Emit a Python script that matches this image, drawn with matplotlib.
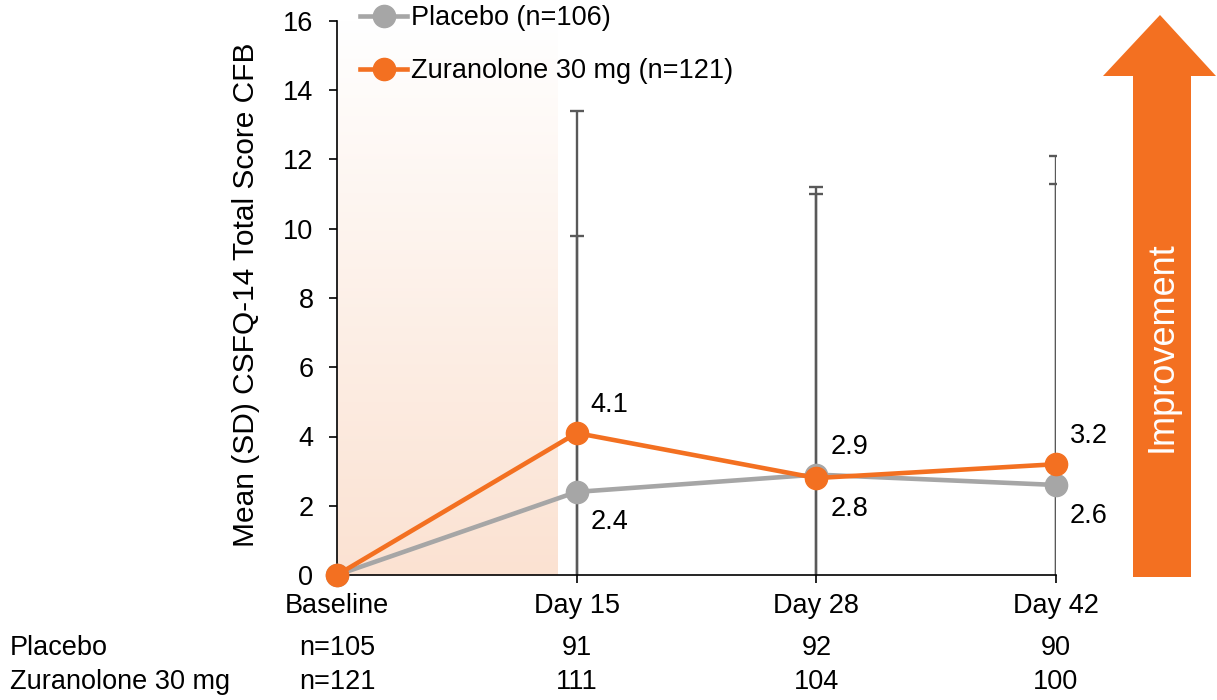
import numpy as np
import matplotlib
matplotlib.use("Agg")
import matplotlib.pyplot as plt
from matplotlib.patches import Polygon
from matplotlib.transforms import blended_transform_factory

plt.rcParams['font.family'] = ['Liberation Sans', 'DejaVu Sans']

# data
visits = ["Baseline", "Day 15", "Day 28", "Day 42"]
placebo_mean = [0, 2.4, 2.9, 2.6]
zur_mean = [0, 4.1, 2.8, 3.2]
placebo_sd = [0, 7.4, 8.1, 8.7]
zur_sd = [0, 9.3, 8.4, 8.9]
placebo_n = ["n=105", "91", "92", "90"]
zur_n = ["n=121", "111", "104", "100"]
placebo_label = "Placebo (n=106)"
zur_label = "Zuranolone 30 mg (n=121)"
row_labels = ["Placebo", "Zuranolone 30 mg"]
shade_end = 0.92  # end of shaded treatment period (in visit units)

ORANGE = "#F37021"
GREY = "#A6A6A6"
ERR = "#595959"
FS = 19.5

W, H = 1217, 700
fig = plt.figure(figsize=(W / 100, H / 100), dpi=100)
ax = fig.add_axes([337 / W, 1 - 575 / H, (1056 - 337) / W, (575 - 21) / H])

x = np.arange(len(visits))

# gradient shading for treatment period
grad = np.linspace(0, 1, 256).reshape(-1, 1)
c0 = np.array([251, 226, 210]) / 255
c1 = np.array([255, 255, 255]) / 255
img = c0[None, None, :] * (1 - grad[..., None]) + c1[None, None, :] * grad[..., None]
ax.imshow(img, extent=[0, shade_end, 0, 16], origin='lower', aspect='auto', zorder=0)

# error bars (drawn behind the lines)
ax.errorbar(x[1:], placebo_mean[1:], yerr=placebo_sd[1:], fmt='none', ecolor=ERR,
            elinewidth=1.7, capsize=5, capthick=1.7, zorder=2)
ax.errorbar(x[1:], zur_mean[1:], yerr=zur_sd[1:], fmt='none', ecolor=ERR,
            elinewidth=1.7, capsize=5, capthick=1.7, zorder=2)

ax.plot(x, placebo_mean, color=GREY, lw=3.3, marker='o', ms=16, label=placebo_label,
        clip_on=False, zorder=4)
ax.plot(x, zur_mean, color=ORANGE, lw=3.3, marker='o', ms=16, label=zur_label,
        clip_on=False, zorder=5)

# data labels
for xi, p, z in zip(x[1:], placebo_mean[1:], zur_mean[1:]):
    hi, lo = max(p, z), min(p, z)
    ax.annotate(f"{hi:.1f}", (xi, hi), xytext=(10, 20), textcoords='offset points',
                ha='left', va='center', fontsize=FS)
    ax.annotate(f"{lo:.1f}", (xi, lo), xytext=(10, -22), textcoords='offset points',
                ha='left', va='center', fontsize=FS)

ax.set_xlim(0, 3)
ax.set_ylim(0, 16)
ax.set_yticks(np.arange(0, 17, 2))
ax.set_xticks(x)
ax.set_xticklabels(visits)
ax.tick_params(axis='both', labelsize=FS, direction='out', length=6, width=1.2)
ax.tick_params(axis='y', pad=11)
ax.tick_params(axis='x', pad=7)
for s in ['top', 'right']:
    ax.spines[s].set_visible(False)
for s in ['left', 'bottom']:
    ax.spines[s].set_linewidth(1.2)

ax.set_ylabel("Mean (SD) CSFQ-14 Total Score CFB", fontsize=21.5)
ax.yaxis.set_label_coords(-0.107, 0.505)

leg = ax.legend(loc='upper left', bbox_to_anchor=(360 / W, 1 - 5 / H),
                bbox_transform=fig.transFigure, frameon=False, fontsize=FS,
                handlelength=1.75, handletextpad=0.15, labelspacing=1.0,
                borderpad=0, borderaxespad=0)

# n table under the axis
tr = blended_transform_factory(ax.transData, fig.transFigure)
for xi, pn, zn in zip(x, placebo_n, zur_n):
    ax.text(xi, 1 - 648 / H, pn, transform=tr, ha='center', va='center', fontsize=FS)
    ax.text(xi, 1 - 682 / H, zn, transform=tr, ha='center', va='center', fontsize=FS)
fig.text(10 / W, 1 - 648 / H, row_labels[0], ha='left', va='center', fontsize=FS)
fig.text(10 / W, 1 - 682 / H, row_labels[1], ha='left', va='center', fontsize=FS)

# improvement arrow
pts = [(1160, 15), (1216, 76), (1191, 76), (1191, 577), (1133, 577), (1133, 76), (1103, 76)]
arrow = Polygon([(px / W, 1 - py / H) for px, py in pts], closed=True,
                transform=fig.transFigure, facecolor=ORANGE, edgecolor='none')
fig.patches.append(arrow)
fig.text(1162 / W, 1 - 347 / H, "Improvement", rotation=90, color='white',
         ha='center', va='center', fontsize=26)

fig.savefig("out.png", dpi=100)
